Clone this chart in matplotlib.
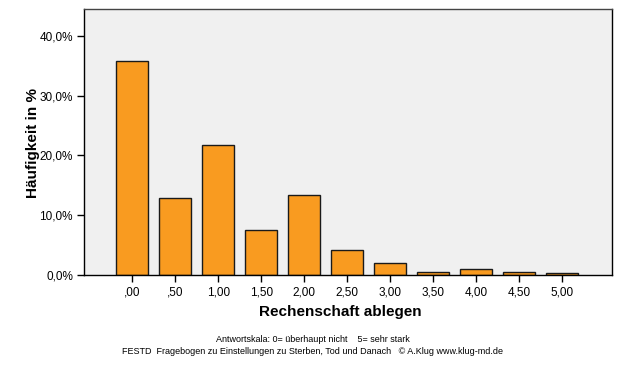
import matplotlib
matplotlib.use("Agg")
import matplotlib.pyplot as plt
import numpy as np

categories = [",00", ",50", "1,00", "1,50", "2,00", "2,50", "3,00", "3,50", "4,00", "4,50", "5,00"]
values = [35.8, 12.9, 21.8, 7.6, 13.4, 4.1, 2.0, 0.45, 0.95, 0.45, 0.3]
yticks = [0, 10, 20, 30, 40]
ytick_labels = ["0,0%", "10,0%", "20,0%", "30,0%", "40,0%"]

plt.rcParams['font.family'] = ['Liberation Sans', 'DejaVu Sans']

W, H = 626, 366
fig = plt.figure(figsize=(W/100, H/100), dpi=100)
ax = fig.add_axes([84/W, 1 - 275/H, (612-84)/W, (275-9)/H])
ax.set_facecolor('#f0f0f0')

x = np.arange(len(categories))
ax.bar(x, values, width=0.74, color='#f99b20', edgecolor='#1a1a1a', linewidth=1.0, zorder=2)

ax.set_xlim(-1.12, len(categories) - 1 + 1.16)
ax.set_ylim(0, 44.5)
ax.set_xticks(x)
ax.set_xticklabels(categories, fontsize=8.5)
ax.set_yticks(yticks)
ax.set_yticklabels(ytick_labels, fontsize=8.5)
ax.tick_params(axis='both', direction='out', length=5, width=1, color='#000000', pad=3)

for s in ax.spines.values():
    s.set_color('#000000')
    s.set_linewidth(1.0)
ax.spines['top'].set_color('#444444')

fig.text(33/W, 1 - 143/H, "Häufigkeit in %", fontsize=11, fontweight='bold', ha='center', va='center', rotation=90)
fig.text(340/W, 1 - 312/H, "Rechenschaft ablegen", fontsize=11, fontweight='bold', ha='center', va='center')
fig.text(313/W, 1 - 340/H, "Antwortskala: 0= überhaupt nicht    5= sehr stark", fontsize=6.5, ha='center', va='center')
fig.text(313/W, 1 - 351/H, "FESTD  Fragebogen zu Einstellungen zu Sterben, Tod und Danach   © A.Klug www.klug-md.de", fontsize=6.5, ha='center', va='center')

fig.savefig("out.png", dpi=100, facecolor='white')
